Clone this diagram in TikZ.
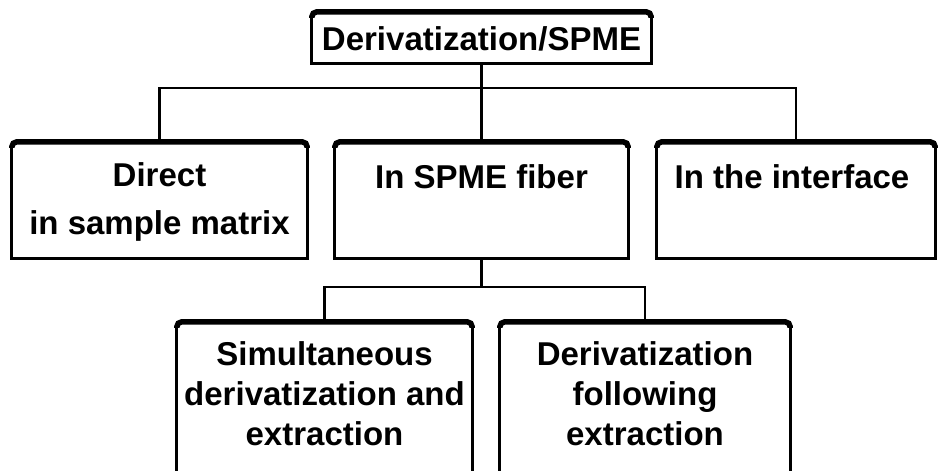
\documentclass[tikz,border=0pt]{standalone}
\usepackage{fontspec}
\setmainfont{Liberation Sans}
\begin{document}
\begin{tikzpicture}[x=1pt,y=-1pt,
  box/.style={inner sep=0pt, minimum width=#1},
  wire/.style={line width=2.8pt, line cap=rect},
  side/.style={line width=2.8pt, line join=miter},
  topbar/.style={line width=5.5pt, rounded corners=5pt},
  lbl/.style={inner sep=0pt, align=center, font=\fontsize{33}{#1}\selectfont\bfseries}]
\useasboundingbox (0,0) rectangle (942,471);
\node[box=339pt, minimum height=51pt]  (top)   at (481.5,37.5) {};
\node[box=295pt, minimum height=116pt] (left)  at (159.5,200) {};
\node[box=293pt, minimum height=116pt] (mid)   at (481.5,200) {};
\node[box=278pt, minimum height=116pt] (right) at (796,200) {};
\node[box=295pt, minimum height=158pt] (bl)    at (324.5,401) {};
\node[box=290pt, minimum height=158pt] (br)    at (645,401) {};
\foreach \n in {top,left,mid,right,bl,br}{
  \draw[side] ([yshift=-4pt]\n.north west) -- (\n.south west) -- (\n.south east) -- ([yshift=-4pt]\n.north east);
  \draw[topbar] ([yshift=-6pt]\n.north west) -- (\n.north west) -- (\n.north east) -- ([yshift=-6pt]\n.north east);
}
\node[lbl=40pt] (ttop)   at (481.5,39) {Derivatization/SPME};
\node[lbl=48pt] (tleft)  at (159.5,202) {Direct\\in sample matrix};
\node[lbl=40pt] (tmid)   at (481.5,177) {In SPME fiber};
\node[lbl=40pt] (tright) at (792,177) {In the interface};
\node[lbl=40pt] (tbl)    at (324.5,394) {Simultaneous\\derivatization and\\extraction};
\node[lbl=40pt] (tbr)    at (645,394) {Derivatization\\following\\extraction};
\coordinate (j1) at (481.5,88);
\coordinate (j2) at (481.5,287);
\draw[wire] (top.south) -- (mid.north);
\draw[wire] (left.north) |- (j1) -| (right.north);
\draw[wire] (mid.south) -- (j2);
\draw[wire] (bl.north) |- (j2) -| (br.north);
\end{tikzpicture}
\end{document}
